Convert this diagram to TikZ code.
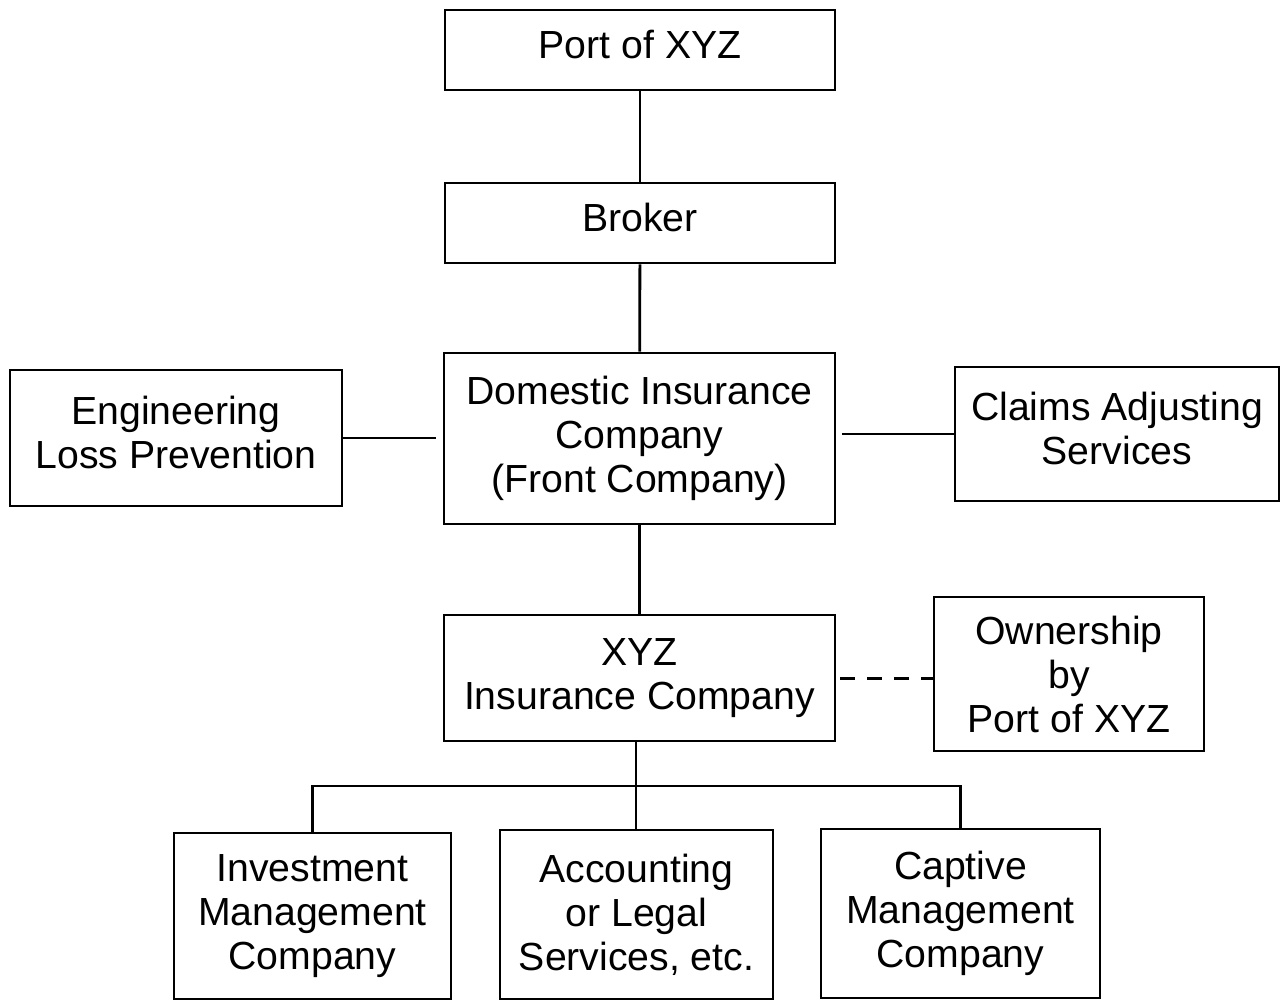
\documentclass[tikz,border=0pt]{standalone}
\usepackage{fontspec}
\setmainfont{Liberation Sans}
\newcommand{\liftlines}[1]{\raisebox{3.5pt}{\begin{tabular}{@{}c@{}}#1\end{tabular}}}
\begin{document}
\begin{tikzpicture}[x=0.5pt,y=-0.5pt,
  box/.style={draw,line width=1.4pt,align=center,inner sep=0pt,
    font=\fontsize{19.6pt}{22pt}\selectfont},
  conn/.style={line width=1.4pt},
  dashconn/.style={line width=1.5pt,dash pattern=on 7.5pt off 6pt}]
\useasboundingbox (0,0) rectangle (1281,1001);
\node[box,minimum width=195pt,minimum height=40pt] (port) at (640,50) {\liftlines{Port of XYZ}};
\node[box,minimum width=195pt,minimum height=40pt] (broker) at (640,223) {\liftlines{Broker}};
\node[box,minimum width=195.5pt,minimum height=85.5pt] (dom) at (639.5,438.5) {Domestic Insurance\\Company\\(Front Company)};
\node[box,minimum width=166pt,minimum height=68pt] (eng) at (176,438) {\liftlines{Engineering\\Loss Prevention}};
\node[box,minimum width=162pt,minimum height=67pt] (claims) at (1117,434) {\liftlines{Claims Adjusting\\Services}};
\node[box,minimum width=195.5pt,minimum height=63pt] (xyz) at (639.5,678) {XYZ\\Insurance Company};
\node[box,minimum width=135pt,minimum height=77pt] (own) at (1069,674) {Ownership\\by\\Port of XYZ};
\node[box,minimum width=138.5pt,minimum height=83pt] (inv) at (312.5,916) {Investment\\Management\\Company};
\node[box,minimum width=136.5pt,minimum height=84.5pt] (acc) at (636.5,914.5) {Accounting\\or Legal\\Services, etc.};
\node[box,minimum width=139.5pt,minimum height=84.5pt] (cap) at (960.5,913.5) {Captive\\Management\\Company};
\coordinate (bus) at (636,786);
\draw[conn] (port) -- (broker);
\draw[conn] (broker) -- (dom);
\draw[conn] (dom) -- (xyz);
\draw[conn,shorten >=3.5pt] (eng) -- (dom.west |- eng.east);
\draw[conn,shorten <=3pt] (dom.east |- claims.west) -- (claims);
\draw[dashconn,shorten <=2pt] (xyz.east) -- (own.west |- xyz.east);
\draw[conn] (xyz.south -| bus) -- (bus);
\draw[conn] (inv.north) |- (bus) -| (cap.north);
\draw[conn] (bus) -- (acc.north -| bus);
\end{tikzpicture}
\end{document}
